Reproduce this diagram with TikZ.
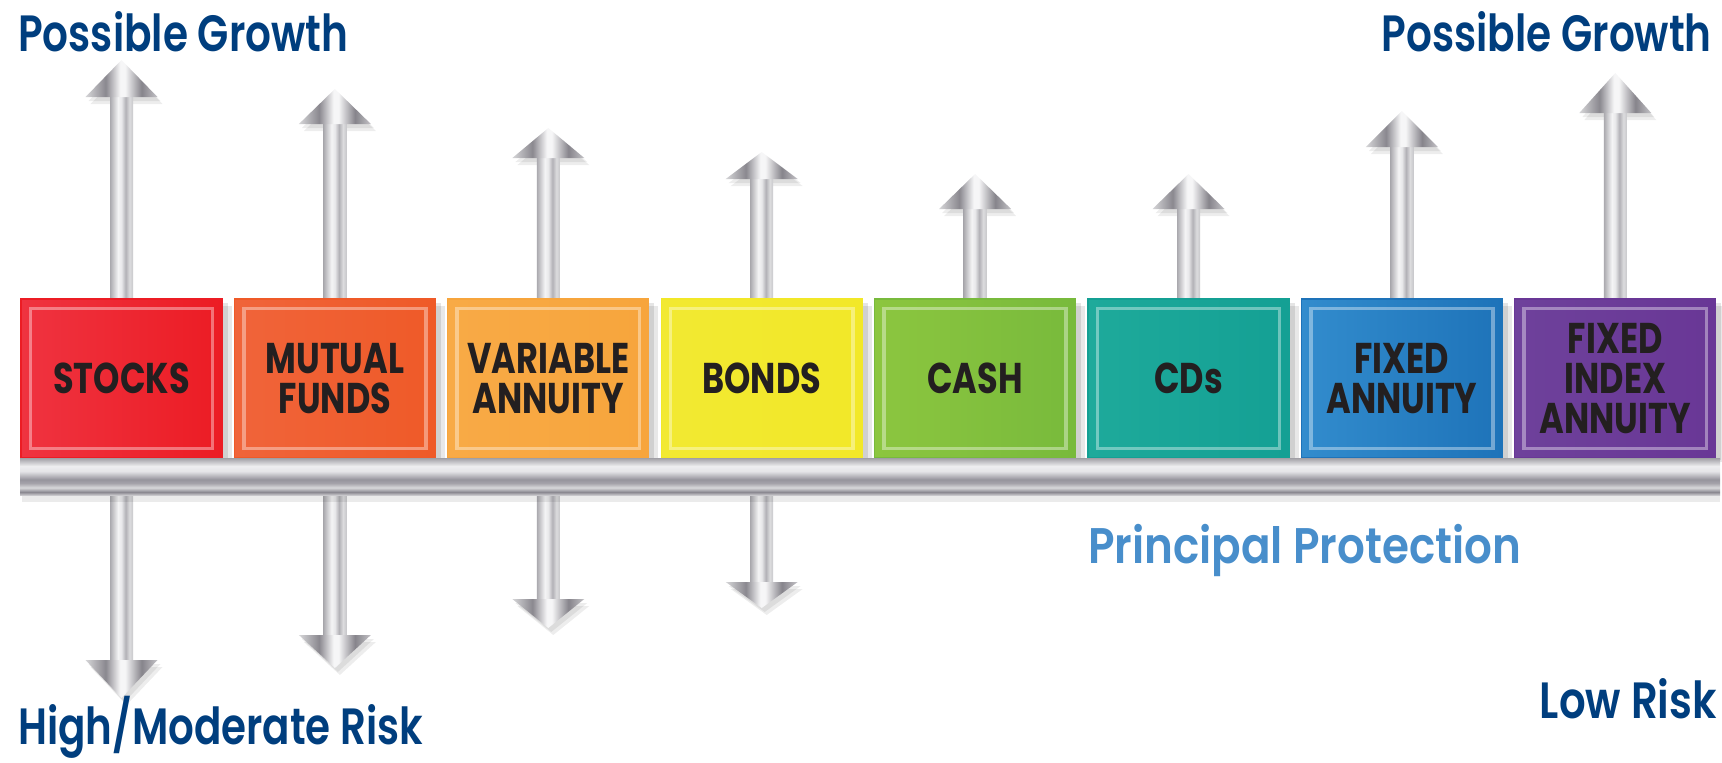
\documentclass[tikz,border=0pt]{standalone}
\usepackage{fontspec}
\usepackage{graphicx}
\usetikzlibrary{calc}
\setmainfont{Poppins}
\newfontfamily\titlefont{Poppins SemiBold}
\newfontfamily\lblfont{Poppins Bold}[FakeStretch=0.78]

\definecolor{titleblue}{RGB}{0,62,126}
\definecolor{protblue}{RGB}{72,142,203}
\definecolor{lbltext}{RGB}{35,31,32}
% metal head
\definecolor{mh0}{RGB}{214,214,216}
\definecolor{mh1}{RGB}{138,136,143}
\definecolor{mh2}{RGB}{246,246,247}
\definecolor{mh3}{RGB}{134,132,139}
\definecolor{mh4}{RGB}{196,195,199}
% metal shaft
\definecolor{ms0}{RGB}{170,169,174}
\definecolor{ms1}{RGB}{244,244,245}
\definecolor{ms2}{RGB}{232,232,234}
\definecolor{ms3}{RGB}{178,177,182}
\definecolor{ms4}{RGB}{220,220,222}
\definecolor{ms5}{RGB}{200,200,203}
% bar
\definecolor{bb0}{RGB}{200,199,203}
\definecolor{bb1}{RGB}{138,136,144}
\definecolor{bb2}{RGB}{216,216,219}
\definecolor{bb3}{RGB}{165,163,170}
\definecolor{bb4}{RGB}{150,148,156}
\definecolor{bb5}{RGB}{228,228,231}
\definecolor{bb6}{RGB}{238,238,240}
\definecolor{bb7}{RGB}{160,159,165}
% boxes
\definecolor{stL}{HTML}{EF3340}\definecolor{stM}{HTML}{F48F98}\definecolor{stR}{HTML}{EC1C24}
\definecolor{muL}{HTML}{F0643A}\definecolor{muM}{HTML}{F6B296}\definecolor{muR}{HTML}{EF5A28}
\definecolor{vaL}{HTML}{F8AA46}\definecolor{vaM}{HTML}{FCD8A5}\definecolor{vaR}{HTML}{F7A53C}
\definecolor{boL}{HTML}{F2E932}\definecolor{boM}{HTML}{F8F496}\definecolor{boR}{HTML}{F2E828}
\definecolor{caL}{HTML}{8CC63F}\definecolor{caM}{HTML}{C4E196}\definecolor{caR}{HTML}{78BA3C}
\definecolor{cdL}{HTML}{1EAA9B}\definecolor{cdM}{HTML}{8CD4CB}\definecolor{cdR}{HTML}{14A094}
\definecolor{fxL}{HTML}{328CCD}\definecolor{fxM}{HTML}{96D2EE}\definecolor{fxR}{HTML}{1E73B9}
\definecolor{fiL}{HTML}{6E419B}\definecolor{fiM}{HTML}{B496C8}\definecolor{fiR}{HTML}{693796}

\pgfdeclarehorizontalshading{metalhead}{100bp}{color(0bp)=(mh0); color(25bp)=(mh0); color(39bp)=(mh1); color(49bp)=(mh2); color(52.5bp)=(mh2); color(64bp)=(mh3); color(75bp)=(mh4); color(100bp)=(mh4)}
\pgfdeclarehorizontalshading{metalshaft}{100bp}{color(0bp)=(ms0); color(25bp)=(ms0); color(42.5bp)=(ms1); color(50bp)=(ms2); color(59bp)=(ms3); color(67.5bp)=(ms4); color(75bp)=(ms5); color(100bp)=(ms5)}
\pgfdeclareverticalshading{barshade}{100bp}{color(0bp)=(bb0); color(25bp)=(bb0); color(29bp)=(bb1); color(35bp)=(bb2); color(41bp)=(bb3); color(46bp)=(bb4); color(57bp)=(bb5); color(64bp)=(bb6); color(75bp)=(bb7); color(100bp)=(bb7)}

\tikzset{
  invbox/.style={rectangle, minimum width=201pt, minimum height=159pt, inner sep=0pt,
    align=center, font=\lblfont\fontsize{43}{40}\selectfont, text=lbltext, line width=1.2pt},
  innerframe/.style={draw=white, draw opacity=0.38, line width=3.5pt},
  headshadow/.style={fill=black, opacity=0.07},
  titletext/.style={inner sep=0pt, text=titleblue},
}

\newcommand\armshaft[3]{\shade[shading=metalshaft] ({#1-11.5},#2) rectangle ({#1+11.5},#3);}
\newcommand\armheadshadow[3]{%
  \fill[headshadow] ({#1-31},{#3+7}) -- ({#1+5},{#2+7}) -- ({#1+41},{#3+7}) -- cycle;
  \fill[headshadow] ({#1-33},{#3+4}) -- ({#1+3},{#2+4}) -- ({#1+39},{#3+4}) -- cycle;}
\newcommand\armhead[3]{\shade[shading=metalhead] ({#1-36},#3) -- (#1,#2) -- ({#1+36},#3) -- cycle;}
\newcommand\fitw[3]{\resizebox{#1pt}{\height}{\titlefont\fontsize{#2}{60}\selectfont #3}}

\begin{document}
\begin{tikzpicture}[x=1pt,y=-1pt]
\useasboundingbox (0,0) rectangle (1722,763);

% ---- arrow shadows
\armheadshadow{121.5}{60}{97}
\armheadshadow{334.9}{89}{124}
\armheadshadow{548.3}{128}{158}
\armheadshadow{761.7}{152}{179}
\armheadshadow{975.1}{174}{209}
\armheadshadow{1188.5}{174}{209}
\armheadshadow{1401.9}{111}{147}
\armheadshadow{1615.3}{73}{113}
\armheadshadow{121.5}{698}{660}
\armheadshadow{334.9}{668}{635}
\armheadshadow{548.3}{628}{599}
\armheadshadow{761.7}{608}{582}

% ---- shafts
\armshaft{121.5}{96}{661}
\armshaft{334.9}{123}{636}
\armshaft{548.3}{157}{600}
\armshaft{761.7}{178}{583}
\armshaft{975.1}{208}{470}
\armshaft{1188.5}{208}{470}
\armshaft{1401.9}{146}{470}
\armshaft{1615.3}{112}{470}

% ---- heads
\armhead{121.5}{60}{97}
\armhead{334.9}{89}{124}
\armhead{548.3}{128}{158}
\armhead{761.7}{152}{179}
\armhead{975.1}{174}{209}
\armhead{1188.5}{174}{209}
\armhead{1401.9}{111}{147}
\armhead{1615.3}{73}{113}
\armhead{121.5}{698}{660}
\armhead{334.9}{668}{635}
\armhead{548.3}{628}{599}
\armhead{761.7}{608}{582}

% ---- box shadows
\foreach \c in {121.5,334.9,548.3,761.7,975.1,1188.5,1401.9,1615.3}{
  \fill[black,opacity=0.09] ({\c-94},306) rectangle ({\c+110},462);
  \fill[black,opacity=0.10] ({\c-96},303) rectangle ({\c+106},460);
}

% ---- boxes
\node[invbox, left color=stL, middle color=stM, right color=stR, draw=stR] (stocks) at (121.5,378.5) {STOCKS};
\node[invbox, left color=muL, middle color=muM, right color=muR, draw=muR] (mutual) at (334.9,378.5) {MUTUAL\\FUNDS};
\node[invbox, left color=vaL, middle color=vaM, right color=vaR, draw=vaR] (variable) at (548.3,378.5) {VARIABLE\\ANNUITY};
\node[invbox, left color=boL, middle color=boM, right color=boR, draw=boR] (bonds) at (761.7,378.5) {BONDS};
\node[invbox, left color=caL, middle color=caM, right color=caR, draw=caR] (cash) at (975.1,378.5) {CASH};
\node[invbox, left color=cdL, middle color=cdM, right color=cdR, draw=cdR] (cds) at (1188.5,378.5) {CDs};
\node[invbox, left color=fxL, middle color=fxM, right color=fxR, draw=fxR] (fixed) at (1401.9,378.5) {FIXED\\ANNUITY};
\node[invbox, left color=fiL, middle color=fiM, right color=fiR, draw=fiR] (fia) at (1615.3,378.5) {FIXED\\INDEX\\ANNUITY};

\foreach \b in {stocks,mutual,variable,bonds,cash,cds,fixed,fia}{
  \draw[innerframe] ([shift={(10,10)}]\b.north west) rectangle ([shift={(-10,-10)}]\b.south east);
}

% ---- bar
\fill[black,opacity=0.08] (22,495) rectangle (1720,502);
\shade[shading=barshade] (20,458) rectangle (1720,495);

% ---- texts
\node[titletext, anchor=base west] (growthL) at (18,51) {\fitw{330}{51}{Possible Growth}};
\node[titletext, anchor=base east] (growthR) at (1712,51) {\fitw{330}{51}{Possible Growth}};
\node[titletext, anchor=base west] (highrisk) at (18,744) {\fitw{405}{51}{High/Moderate Risk}};
\node[titletext, anchor=base east] (lowrisk) at (1717,718) {\fitw{177}{51}{Low Risk}};
\node[inner sep=0pt, text=protblue, anchor=base west] (protect) at (1088,563) {\fitw{433}{50}{Principal Protection}};
\end{tikzpicture}
\end{document}
